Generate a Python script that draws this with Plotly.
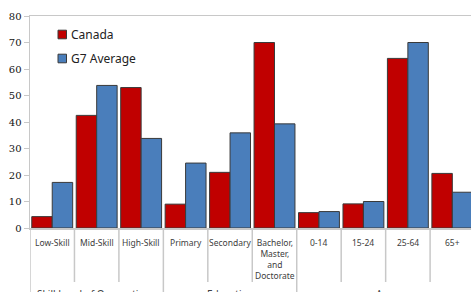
import plotly.graph_objects as go

categories = ["Low-Skill", "Mid-Skill", "High-Skill", "Primary", "Secondary",
              "Bachelor,<br>Master,<br>and<br>Doctorate", "0-14", "15-24", "25-64", "65+"]
canada = [4.3, 42.5, 53.0, 9.0, 21.0, 70.0, 5.8, 9.1, 64.0, 20.6]
g7 = [17.2, 53.8, 33.8, 24.5, 35.9, 39.3, 6.2, 10.0, 70.0, 13.5]
groups = ["Skill Level of Occupations", "Education", "Age"]
group_sizes = [3, 3, 4]
series_names = ["Canada", "G7 Average"]
series_colors = ["#C00000", "#4A7EBB"]
y_ticks = [0, 10, 20, 30, 40, 50, 60, 70, 80]

W, H = 471, 292
ML, MT, MB = 30, 16, 64
PW = W - ML
PH = H - MT - MB

def py(p):
    return (H - MB - p) / PH

def px(p):
    return (p - ML) / PW

x = list(range(len(categories)))
fig = go.Figure()
for name, vals, col in zip(series_names, [canada, g7], series_colors):
    fig.add_bar(x=x, y=vals, name=name, hoverinfo="skip",
                marker=dict(color=col, line=dict(color="#3a3a3a", width=1)))

shapes = []
bounds = [0]
for s in group_sizes:
    bounds.append(bounds[-1] + s)
group_edges = set(bounds)
for b in range(len(categories) + 1):
    y1 = py(H) if b in group_edges else py(282)
    shapes.append(dict(type="line", xref="x", yref="paper", x0=b - 0.5, x1=b - 0.5, y0=0, y1=y1,
                       line=dict(color="#c8c8c8", width=1.5)))

annotations = []
for i, lab in enumerate(categories):
    annotations.append(dict(x=i, xref="x", y=py(235), yref="paper", yanchor="top", text=lab,
                            showarrow=False, font=dict(family="Noto Sans", size=8.5, color="#404040")))
for gi, g in enumerate(groups):
    cx = (bounds[gi] + bounds[gi + 1] - 1) / 2
    annotations.append(dict(x=cx, xref="x", y=py(285), yref="paper", yanchor="top", text=g,
                            showarrow=False, font=dict(family="Noto Sans", size=10, color="#404040")))

# custom legend
for k, (name, col) in enumerate(zip(series_names, series_colors)):
    yc = 34.5 + 24 * k
    shapes.append(dict(type="rect", xref="paper", yref="paper",
                       x0=px(58), x1=px(66.5), y0=py(yc - 4.3), y1=py(yc + 4.3),
                       fillcolor=col, line=dict(color="#3a3a3a", width=1)))
    annotations.append(dict(x=px(69), xref="paper", y=py(yc), yref="paper", xanchor="left",
                            yanchor="middle", text=name, showarrow=False,
                            font=dict(family="Noto Sans", size=12, color="#222222")))

fig.update_layout(
    width=W, height=H, margin=dict(l=ML, r=0, t=MT, b=MB, autoexpand=False),
    paper_bgcolor="white", plot_bgcolor="white",
    barmode="group", bargap=0.08, bargroupgap=0,
    showlegend=False,
    xaxis=dict(range=[-0.5, 9.42], showticklabels=False, ticks="", showgrid=False, automargin=False,
               showline=True, mirror=True, linecolor="#c8c8c8", linewidth=1.5, zeroline=False),
    yaxis=dict(range=[0, 80], tickvals=y_ticks, showgrid=False, zeroline=False, automargin=False,
               showline=True, linecolor="#c8c8c8", linewidth=1.5, ticks="outside", ticklen=5,
               tickcolor="#c8c8c8",
               tickfont=dict(family="DejaVu Serif", size=10, color="#111111")),
    shapes=shapes, annotations=annotations,
)
fig.write_html("out.html", config={"displayModeBar": False, "staticPlot": True},
               post_script="document.body.style.margin='0';document.body.style.overflow='hidden';")
